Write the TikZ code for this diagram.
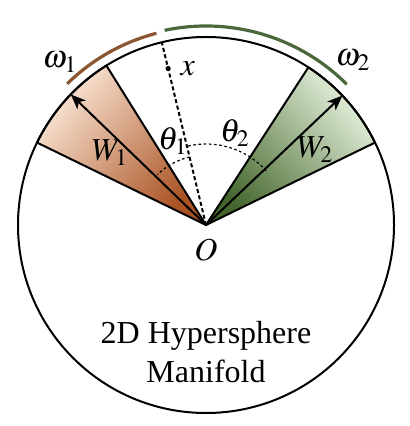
\documentclass[tikz,border=0pt]{standalone}
\usepackage{mathptmx}
\usepackage{fontspec}
\setmainfont{Liberation Serif}
\usetikzlibrary{arrows.meta,positioning,calc}

\definecolor{rustdark}{RGB}{170,82,34}
\definecolor{rustmid}{RGB}{226,160,118}
\definecolor{rustlight}{RGB}{250,230,214}
\definecolor{mossdark}{RGB}{68,102,44}
\definecolor{mossmid}{RGB}{150,190,120}
\definecolor{mosslight}{RGB}{230,242,222}
\definecolor{rustarc}{RGB}{140,86,48}
\definecolor{mossarc}{RGB}{74,104,58}

\begin{document}
\begin{tikzpicture}[x=0.5pt,y=0.5pt,
  >={Stealth[length=7.5pt,width=6pt,inset=2pt]},
  rim/.style={line width=1pt,line join=round},
  wvec/.style={->,line width=1pt},
  guide/.style={line width=1pt,dash pattern=on 2pt off 1.3pt},
  angarc/.style={line width=0.6pt,dash pattern=on 1.3pt off 1.3pt},
  bandarc/.style={line width=1.6pt},
  lbl/.style={font=\fontsize{16}{19.5}\selectfont,inner sep=0pt}]
  \useasboundingbox (-206,-201) rectangle (204,225);
  \coordinate (o) at (0,0);
  % the two class sectors
  \shadedraw[rim,bottom color=rustdark,middle color=rustmid,top color=rustlight,shading angle=48]
    (o) -- (122:188) arc (122:154:188) -- cycle;
  \shadedraw[rim,bottom color=mossdark,middle color=mossmid,top color=mosslight,shading angle=-48]
    (o) -- (26:188) arc (26:57:188) -- cycle;
  \draw[rim] (o) circle (188);
  % sample x and its direction
  \coordinate (xr) at (103.6:188);
  \coordinate (xp) at (103.6:161);
  \draw[guide] (o) -- (xr);
  \fill (xp) circle (2.6);
  \node[lbl,right=6pt of xp] (xl) {$x$};
  % class weights
  \coordinate (w1) at (136:188);
  \coordinate (w2) at (43.5:188);
  \draw[wvec] (o) -- (w1);
  \draw[wvec] (o) -- (w2);
  \node[lbl] (w1l) at (-96,72) {$W_1$};
  \node[lbl] (w2l) at (109,75) {$W_2$};
  % angles
  \draw[angarc] (103.6:70) arc (103.6:134:70);
  \draw[angarc] (42:81) arc (42:103.6:81);
  \node[lbl] (t1) at (-33,84) {$\theta_1$};
  \node[lbl] (t2) at (29,92) {$\theta_2$};
  % class regions on the rim
  \draw[bandarc,rustarc] (104.5:198) arc (104.5:134.5:198);
  \draw[bandarc,mossarc] (45:199) arc (45:102:199);
  \node[lbl] (om1) at (-146,163) {$\omega_1$};
  \node[lbl] (om2) at (147,165) {$\omega_2$};
  \node[lbl] (ol) at (0,-25) {$O$};
  \node[lbl,align=center] (title) at (0,-127) {2D Hypersphere\\Manifold};
\end{tikzpicture}
\end{document}
